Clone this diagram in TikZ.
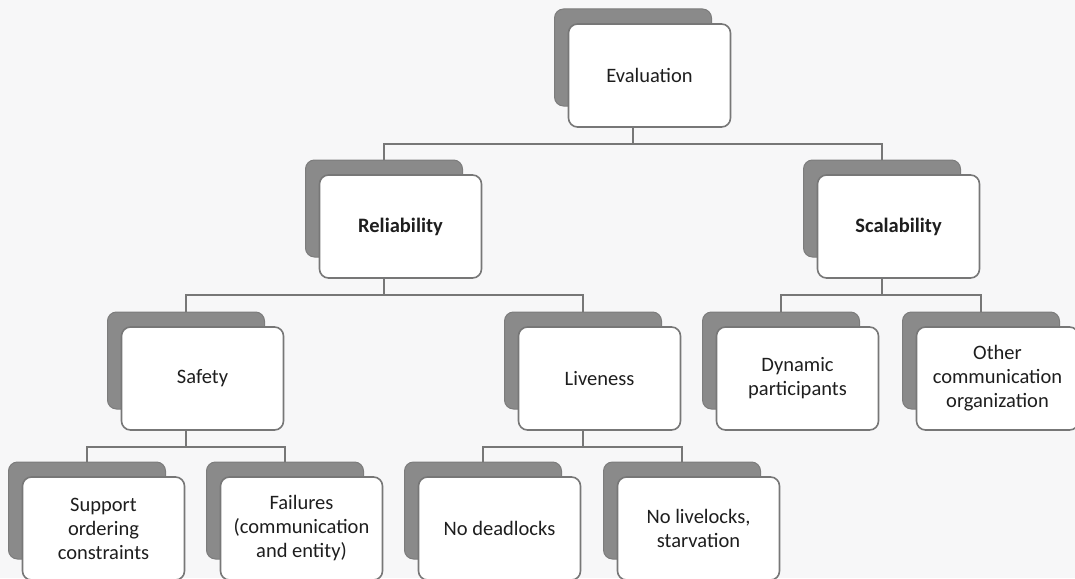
\documentclass[tikz,border=0pt]{standalone}
\usepackage{fontspec}
\setmainfont{Carlito}
\definecolor{paper}{HTML}{F7F7F8}
\definecolor{shadowgray}{HTML}{8A8A8A}
\definecolor{edgegray}{HTML}{777777}
\definecolor{textgray}{HTML}{1E1E1E}
% one tree entry: a grey back card and a white front card carrying the text
% #1 name, #2 x of the back card centre, #3 top of the back card, #4 text
\newcommand\cardpair[4]{%
  \node[backcard] (#1) at (#2, #3+48.5) {};
  \node[frontcard] (#1f) at (#2+16.5, #3+66.5) {#4};
}
\begin{document}
\begin{tikzpicture}[x=1pt, y=-1pt,
  backcard/.style={draw=shadowgray!90!black, fill=shadowgray, rounded corners=9pt,
    minimum width=157pt, minimum height=97pt, inner sep=0pt, line width=1pt},
  frontcard/.style={draw=edgegray, fill=white, rounded corners=9pt,
    minimum width=162pt, minimum height=103pt, inner sep=2pt, line width=1.6pt,
    align=center, text=textgray, font=\fontsize{20.5}{24}\selectfont},
  link/.style={draw=edgegray, line width=1.8pt}]

  \fill[paper] (0,0) rectangle (1075,578);
  \useasboundingbox (0,0) rectangle (1075,578);

  % level 0
  \cardpair{eval}{633}{9}{Evaluation}
  % level 1
  \cardpair{rel}{384}{160}{\textbf{Reliability}}
  \cardpair{sca}{882}{160}{\textbf{Scalability}}
  % level 2
  \cardpair{saf}{186}{312}{Safety}
  \cardpair{liv}{583}{312}{Liveness}
  \cardpair{dyn}{781}{312}{Dynamic\\participants}
  \cardpair{oth}{981}{312}{Other\\communication\\organization}
  % level 3
  \cardpair{sup}{87}{462}{Support\\ordering\\constraints}
  \cardpair{fai}{285}{462}{Failures\\(communication\\and entity)}
  \cardpair{dead}{483}{462}{No deadlocks}
  \cardpair{live}{682}{462}{No livelocks,\\starvation}

  % connectors: down from the parent, along a bus, down to each child
  \draw[link] (evalf.south -| eval.center) -- ++(0,16.5) -| (rel.north);
  \draw[link] (evalf.south -| eval.center) -- ++(0,16.5) -| (sca.north);
  \draw[link] (relf.south -| rel.center) -- ++(0,16.5) -| (saf.north);
  \draw[link] (relf.south -| rel.center) -- ++(0,16.5) -| (liv.north);
  \draw[link] (scaf.south -| sca.center) -- ++(0,16.5) -| (dyn.north);
  \draw[link] (scaf.south -| sca.center) -- ++(0,16.5) -| (oth.north);
  \draw[link] (saff.south -| saf.center) -- ++(0,16.5) -| (sup.north);
  \draw[link] (saff.south -| saf.center) -- ++(0,16.5) -| (fai.north);
  \draw[link] (livf.south -| liv.center) -- ++(0,16.5) -| (dead.north);
  \draw[link] (livf.south -| liv.center) -- ++(0,16.5) -| (live.north);
\end{tikzpicture}
\end{document}
